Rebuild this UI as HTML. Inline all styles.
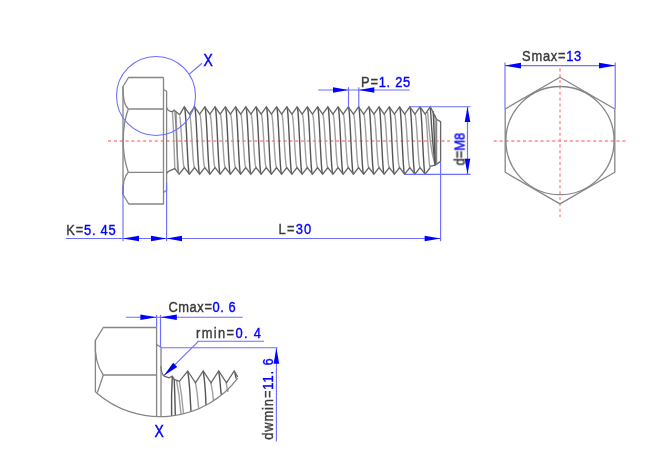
<!DOCTYPE html>
<html><head><meta charset="utf-8"><style>
html,body{margin:0;padding:0;background:#fff;}
svg{display:block;}
text{font-family:"Liberation Sans",sans-serif;}
</style></head><body>
<svg width="668" height="465" viewBox="0 0 668 465">
<rect width="668" height="465" fill="#fff"/>

<g fill="none" stroke="#ff8888" stroke-width="1.3" stroke-dasharray="3.1 2.75"><line x1="108" y1="141" x2="450" y2="141" /><line x1="493.7" y1="141" x2="625.4" y2="141" /><line x1="560" y1="68.3" x2="560" y2="217" /></g>
<g fill="none" stroke="#a0a0a0" stroke-width="1.4"><path d="M427.6,112 C429.5,135 431,153 435.3,165" /><path d="M435,115 C435.8,135 435.8,152 435.6,164.5" /><path d="M179.82,116.23 L180.14,118.69 L180.46,122.01 L180.78,126.04 L181.1,130.65 L181.42,135.65 L181.74,140.85 L182.06,146.05 L182.38,151.05 L182.7,155.66 L183.02,159.69 L183.34,163.01 L183.66,165.47 L183.98,166.99 L184.3,167.5" /><path d="M189.43,114.2 L189.75,114.71 L190.07,116.23 L190.39,118.69 L190.71,122.01 L191.03,126.04 L191.35,130.65 L191.67,135.65 L191.99,140.85 L192.31,146.05 L192.63,151.05 L192.95,155.66 L193.27,159.69 L193.59,163.01 L193.91,165.47 L194.23,166.99 L194.55,167.5" /><path d="M199.68,114.2 L200,114.71 L200.32,116.23 L200.64,118.69 L200.96,122.01 L201.28,126.04 L201.6,130.65 L201.92,135.65 L202.24,140.85 L202.56,146.05 L202.88,151.05 L203.2,155.66 L203.52,159.69 L203.84,163.01 L204.16,165.47 L204.48,166.99 L204.8,167.5" /><path d="M209.93,114.2 L210.25,114.71 L210.57,116.23 L210.89,118.69 L211.21,122.01 L211.53,126.04 L211.85,130.65 L212.17,135.65 L212.49,140.85 L212.81,146.05 L213.13,151.05 L213.45,155.66 L213.77,159.69 L214.09,163.01 L214.41,165.47 L214.73,166.99 L215.05,167.5" /><path d="M220.18,114.2 L220.5,114.71 L220.82,116.23 L221.14,118.69 L221.46,122.01 L221.78,126.04 L222.1,130.65 L222.42,135.65 L222.74,140.85 L223.06,146.05 L223.38,151.05 L223.7,155.66 L224.02,159.69 L224.34,163.01 L224.66,165.47 L224.98,166.99 L225.3,167.5" /><path d="M230.43,114.2 L230.75,114.71 L231.07,116.23 L231.39,118.69 L231.71,122.01 L232.03,126.04 L232.35,130.65 L232.67,135.65 L232.99,140.85 L233.31,146.05 L233.63,151.05 L233.95,155.66 L234.27,159.69 L234.59,163.01 L234.91,165.47 L235.23,166.99 L235.55,167.5" /><path d="M240.68,114.2 L241,114.71 L241.32,116.23 L241.64,118.69 L241.96,122.01 L242.28,126.04 L242.6,130.65 L242.92,135.65 L243.24,140.85 L243.56,146.05 L243.88,151.05 L244.2,155.66 L244.52,159.69 L244.84,163.01 L245.16,165.47 L245.48,166.99 L245.8,167.5" /><path d="M250.93,114.2 L251.25,114.71 L251.57,116.23 L251.89,118.69 L252.21,122.01 L252.53,126.04 L252.85,130.65 L253.17,135.65 L253.49,140.85 L253.81,146.05 L254.13,151.05 L254.45,155.66 L254.77,159.69 L255.09,163.01 L255.41,165.47 L255.73,166.99 L256.05,167.5" /><path d="M261.18,114.2 L261.5,114.71 L261.82,116.23 L262.14,118.69 L262.46,122.01 L262.78,126.04 L263.1,130.65 L263.42,135.65 L263.74,140.85 L264.06,146.05 L264.38,151.05 L264.7,155.66 L265.02,159.69 L265.34,163.01 L265.66,165.47 L265.98,166.99 L266.3,167.5" /><path d="M271.43,114.2 L271.75,114.71 L272.07,116.23 L272.39,118.69 L272.71,122.01 L273.03,126.04 L273.35,130.65 L273.67,135.65 L273.99,140.85 L274.31,146.05 L274.63,151.05 L274.95,155.66 L275.27,159.69 L275.59,163.01 L275.91,165.47 L276.23,166.99 L276.55,167.5" /><path d="M281.68,114.2 L282,114.71 L282.32,116.23 L282.64,118.69 L282.96,122.01 L283.28,126.04 L283.6,130.65 L283.92,135.65 L284.24,140.85 L284.56,146.05 L284.88,151.05 L285.2,155.66 L285.52,159.69 L285.84,163.01 L286.16,165.47 L286.48,166.99 L286.8,167.5" /><path d="M291.93,114.2 L292.25,114.71 L292.57,116.23 L292.89,118.69 L293.21,122.01 L293.53,126.04 L293.85,130.65 L294.17,135.65 L294.49,140.85 L294.81,146.05 L295.13,151.05 L295.45,155.66 L295.77,159.69 L296.09,163.01 L296.41,165.47 L296.73,166.99 L297.05,167.5" /><path d="M302.18,114.2 L302.5,114.71 L302.82,116.23 L303.14,118.69 L303.46,122.01 L303.78,126.04 L304.1,130.65 L304.42,135.65 L304.74,140.85 L305.06,146.05 L305.38,151.05 L305.7,155.66 L306.02,159.69 L306.34,163.01 L306.66,165.47 L306.98,166.99 L307.3,167.5" /><path d="M312.43,114.2 L312.75,114.71 L313.07,116.23 L313.39,118.69 L313.71,122.01 L314.03,126.04 L314.35,130.65 L314.67,135.65 L314.99,140.85 L315.31,146.05 L315.63,151.05 L315.95,155.66 L316.27,159.69 L316.59,163.01 L316.91,165.47 L317.23,166.99 L317.55,167.5" /><path d="M322.68,114.2 L323,114.71 L323.32,116.23 L323.64,118.69 L323.96,122.01 L324.28,126.04 L324.6,130.65 L324.92,135.65 L325.24,140.85 L325.56,146.05 L325.88,151.05 L326.2,155.66 L326.52,159.69 L326.84,163.01 L327.16,165.47 L327.48,166.99 L327.8,167.5" /><path d="M332.93,114.2 L333.25,114.71 L333.57,116.23 L333.89,118.69 L334.21,122.01 L334.53,126.04 L334.85,130.65 L335.17,135.65 L335.49,140.85 L335.81,146.05 L336.13,151.05 L336.45,155.66 L336.77,159.69 L337.09,163.01 L337.41,165.47 L337.73,166.99 L338.05,167.5" /><path d="M343.18,114.2 L343.5,114.71 L343.82,116.23 L344.14,118.69 L344.46,122.01 L344.78,126.04 L345.1,130.65 L345.42,135.65 L345.74,140.85 L346.06,146.05 L346.38,151.05 L346.7,155.66 L347.02,159.69 L347.34,163.01 L347.66,165.47 L347.98,166.99 L348.3,167.5" /><path d="M353.43,114.2 L353.75,114.71 L354.07,116.23 L354.39,118.69 L354.71,122.01 L355.03,126.04 L355.35,130.65 L355.67,135.65 L355.99,140.85 L356.31,146.05 L356.63,151.05 L356.95,155.66 L357.27,159.69 L357.59,163.01 L357.91,165.47 L358.23,166.99 L358.55,167.5" /><path d="M363.68,114.2 L364,114.71 L364.32,116.23 L364.64,118.69 L364.96,122.01 L365.28,126.04 L365.6,130.65 L365.92,135.65 L366.24,140.85 L366.56,146.05 L366.88,151.05 L367.2,155.66 L367.52,159.69 L367.84,163.01 L368.16,165.47 L368.48,166.99 L368.8,167.5" /><path d="M373.93,114.2 L374.25,114.71 L374.57,116.23 L374.89,118.69 L375.21,122.01 L375.53,126.04 L375.85,130.65 L376.17,135.65 L376.49,140.85 L376.81,146.05 L377.13,151.05 L377.45,155.66 L377.77,159.69 L378.09,163.01 L378.41,165.47 L378.73,166.99 L379.05,167.5" /><path d="M384.18,114.2 L384.5,114.71 L384.82,116.23 L385.14,118.69 L385.46,122.01 L385.78,126.04 L386.1,130.65 L386.42,135.65 L386.74,140.85 L387.06,146.05 L387.38,151.05 L387.7,155.66 L388.02,159.69 L388.34,163.01 L388.66,165.47 L388.98,166.99 L389.3,167.5" /><path d="M394.43,114.2 L394.75,114.71 L395.07,116.23 L395.39,118.69 L395.71,122.01 L396.03,126.04 L396.35,130.65 L396.67,135.65 L396.99,140.85 L397.31,146.05 L397.63,151.05 L397.95,155.66 L398.27,159.69 L398.59,163.01 L398.91,165.47 L399.23,166.99 L399.55,167.5" /><path d="M404.68,114.2 L405,114.71 L405.32,116.23 L405.64,118.69 L405.96,122.01 L406.28,126.04 L406.6,130.65 L406.92,135.65 L407.24,140.85 L407.56,146.05 L407.88,151.05 L408.2,155.66 L408.52,159.69 L408.84,163.01 L409.16,165.47 L409.48,166.99 L409.8,167.5" /><path d="M414.93,114.2 L415.25,114.71 L415.57,116.23 L415.89,118.69 L416.21,122.01 L416.53,126.04 L416.85,130.65 L417.17,135.65 L417.49,140.85 L417.81,146.05 L418.13,151.05 L418.45,155.66 L418.77,159.69 L419.09,163.01 L419.41,165.47 L419.73,166.99 L420.05,167.5" /><path d="M425.18,114.2 L425.5,114.71 L425.82,116.23 L426.14,118.69 L426.46,122.01 L426.78,126.04 L427.1,130.65 L427.42,135.65 L427.74,140.85 L428.06,146.05 L428.38,151.05 L428.7,155.66 L429.02,159.69 L429.34,163.01 L429.66,165.47 L429.98,166.99 L430.3,167.5" /><path d="M172.4,111.6 L173.2,125 L174.2,150 L174.8,168.6" /><path d="M176.2,112.3 L176.6,130 L177.2,150 L177.6,170.5" /><path d="M195.5,382.8 L197,392 L198.7,408.76" /><path d="M211,382.8 L212.5,392 L213.5,400.81" /><path d="M226.2,382.8 L227.7,392 L228,389.22" /><path d="M176.5,380.3 L179,395 L181,414.44" /><path d="M179.4,381.3 L181.5,395 L183.5,413.86" /></g>
<g fill="none" stroke="#555" stroke-width="1.4"><path d="M184.3,106.8 L184.62,107.45 L184.94,109.37 L185.26,112.48 L185.58,116.67 L185.9,121.78 L186.22,127.6 L186.54,133.93 L186.86,140.5 L187.18,147.07 L187.5,153.4 L187.82,159.22 L188.14,164.33 L188.46,168.52 L188.78,171.63 L189.1,173.55 L189.43,174.2" /><path d="M194.55,106.8 L194.87,107.45 L195.19,109.37 L195.51,112.48 L195.83,116.67 L196.15,121.78 L196.47,127.6 L196.79,133.93 L197.11,140.5 L197.43,147.07 L197.75,153.4 L198.07,159.22 L198.39,164.33 L198.71,168.52 L199.03,171.63 L199.35,173.55 L199.68,174.2" /><path d="M204.8,106.8 L205.12,107.45 L205.44,109.37 L205.76,112.48 L206.08,116.67 L206.4,121.78 L206.72,127.6 L207.04,133.93 L207.36,140.5 L207.68,147.07 L208,153.4 L208.32,159.22 L208.64,164.33 L208.96,168.52 L209.28,171.63 L209.6,173.55 L209.93,174.2" /><path d="M215.05,106.8 L215.37,107.45 L215.69,109.37 L216.01,112.48 L216.33,116.67 L216.65,121.78 L216.97,127.6 L217.29,133.93 L217.61,140.5 L217.93,147.07 L218.25,153.4 L218.57,159.22 L218.89,164.33 L219.21,168.52 L219.53,171.63 L219.85,173.55 L220.18,174.2" /><path d="M225.3,106.8 L225.62,107.45 L225.94,109.37 L226.26,112.48 L226.58,116.67 L226.9,121.78 L227.22,127.6 L227.54,133.93 L227.86,140.5 L228.18,147.07 L228.5,153.4 L228.82,159.22 L229.14,164.33 L229.46,168.52 L229.78,171.63 L230.1,173.55 L230.43,174.2" /><path d="M235.55,106.8 L235.87,107.45 L236.19,109.37 L236.51,112.48 L236.83,116.67 L237.15,121.78 L237.47,127.6 L237.79,133.93 L238.11,140.5 L238.43,147.07 L238.75,153.4 L239.07,159.22 L239.39,164.33 L239.71,168.52 L240.03,171.63 L240.35,173.55 L240.68,174.2" /><path d="M245.8,106.8 L246.12,107.45 L246.44,109.37 L246.76,112.48 L247.08,116.67 L247.4,121.78 L247.72,127.6 L248.04,133.93 L248.36,140.5 L248.68,147.07 L249,153.4 L249.32,159.22 L249.64,164.33 L249.96,168.52 L250.28,171.63 L250.6,173.55 L250.93,174.2" /><path d="M256.05,106.8 L256.37,107.45 L256.69,109.37 L257.01,112.48 L257.33,116.67 L257.65,121.78 L257.97,127.6 L258.29,133.93 L258.61,140.5 L258.93,147.07 L259.25,153.4 L259.57,159.22 L259.89,164.33 L260.21,168.52 L260.53,171.63 L260.85,173.55 L261.18,174.2" /><path d="M266.3,106.8 L266.62,107.45 L266.94,109.37 L267.26,112.48 L267.58,116.67 L267.9,121.78 L268.22,127.6 L268.54,133.93 L268.86,140.5 L269.18,147.07 L269.5,153.4 L269.82,159.22 L270.14,164.33 L270.46,168.52 L270.78,171.63 L271.1,173.55 L271.43,174.2" /><path d="M276.55,106.8 L276.87,107.45 L277.19,109.37 L277.51,112.48 L277.83,116.67 L278.15,121.78 L278.47,127.6 L278.79,133.93 L279.11,140.5 L279.43,147.07 L279.75,153.4 L280.07,159.22 L280.39,164.33 L280.71,168.52 L281.03,171.63 L281.35,173.55 L281.68,174.2" /><path d="M286.8,106.8 L287.12,107.45 L287.44,109.37 L287.76,112.48 L288.08,116.67 L288.4,121.78 L288.72,127.6 L289.04,133.93 L289.36,140.5 L289.68,147.07 L290,153.4 L290.32,159.22 L290.64,164.33 L290.96,168.52 L291.28,171.63 L291.6,173.55 L291.93,174.2" /><path d="M297.05,106.8 L297.37,107.45 L297.69,109.37 L298.01,112.48 L298.33,116.67 L298.65,121.78 L298.97,127.6 L299.29,133.93 L299.61,140.5 L299.93,147.07 L300.25,153.4 L300.57,159.22 L300.89,164.33 L301.21,168.52 L301.53,171.63 L301.85,173.55 L302.18,174.2" /><path d="M307.3,106.8 L307.62,107.45 L307.94,109.37 L308.26,112.48 L308.58,116.67 L308.9,121.78 L309.22,127.6 L309.54,133.93 L309.86,140.5 L310.18,147.07 L310.5,153.4 L310.82,159.22 L311.14,164.33 L311.46,168.52 L311.78,171.63 L312.1,173.55 L312.43,174.2" /><path d="M317.55,106.8 L317.87,107.45 L318.19,109.37 L318.51,112.48 L318.83,116.67 L319.15,121.78 L319.47,127.6 L319.79,133.93 L320.11,140.5 L320.43,147.07 L320.75,153.4 L321.07,159.22 L321.39,164.33 L321.71,168.52 L322.03,171.63 L322.35,173.55 L322.68,174.2" /><path d="M327.8,106.8 L328.12,107.45 L328.44,109.37 L328.76,112.48 L329.08,116.67 L329.4,121.78 L329.72,127.6 L330.04,133.93 L330.36,140.5 L330.68,147.07 L331,153.4 L331.32,159.22 L331.64,164.33 L331.96,168.52 L332.28,171.63 L332.6,173.55 L332.93,174.2" /><path d="M338.05,106.8 L338.37,107.45 L338.69,109.37 L339.01,112.48 L339.33,116.67 L339.65,121.78 L339.97,127.6 L340.29,133.93 L340.61,140.5 L340.93,147.07 L341.25,153.4 L341.57,159.22 L341.89,164.33 L342.21,168.52 L342.53,171.63 L342.85,173.55 L343.18,174.2" /><path d="M348.3,106.8 L348.62,107.45 L348.94,109.37 L349.26,112.48 L349.58,116.67 L349.9,121.78 L350.22,127.6 L350.54,133.93 L350.86,140.5 L351.18,147.07 L351.5,153.4 L351.82,159.22 L352.14,164.33 L352.46,168.52 L352.78,171.63 L353.1,173.55 L353.43,174.2" /><path d="M358.55,106.8 L358.87,107.45 L359.19,109.37 L359.51,112.48 L359.83,116.67 L360.15,121.78 L360.47,127.6 L360.79,133.93 L361.11,140.5 L361.43,147.07 L361.75,153.4 L362.07,159.22 L362.39,164.33 L362.71,168.52 L363.03,171.63 L363.35,173.55 L363.68,174.2" /><path d="M368.8,106.8 L369.12,107.45 L369.44,109.37 L369.76,112.48 L370.08,116.67 L370.4,121.78 L370.72,127.6 L371.04,133.93 L371.36,140.5 L371.68,147.07 L372,153.4 L372.32,159.22 L372.64,164.33 L372.96,168.52 L373.28,171.63 L373.6,173.55 L373.93,174.2" /><path d="M379.05,106.8 L379.37,107.45 L379.69,109.37 L380.01,112.48 L380.33,116.67 L380.65,121.78 L380.97,127.6 L381.29,133.93 L381.61,140.5 L381.93,147.07 L382.25,153.4 L382.57,159.22 L382.89,164.33 L383.21,168.52 L383.53,171.63 L383.85,173.55 L384.18,174.2" /><path d="M389.3,106.8 L389.62,107.45 L389.94,109.37 L390.26,112.48 L390.58,116.67 L390.9,121.78 L391.22,127.6 L391.54,133.93 L391.86,140.5 L392.18,147.07 L392.5,153.4 L392.82,159.22 L393.14,164.33 L393.46,168.52 L393.78,171.63 L394.1,173.55 L394.43,174.2" /><path d="M399.55,106.8 L399.87,107.45 L400.19,109.37 L400.51,112.48 L400.83,116.67 L401.15,121.78 L401.47,127.6 L401.79,133.93 L402.11,140.5 L402.43,147.07 L402.75,153.4 L403.07,159.22 L403.39,164.33 L403.71,168.52 L404.03,171.63 L404.35,173.55 L404.68,174.2" /><path d="M409.8,106.8 L410.12,107.45 L410.44,109.37 L410.76,112.48 L411.08,116.67 L411.4,121.78 L411.72,127.6 L412.04,133.93 L412.36,140.5 L412.68,147.07 L413,153.4 L413.32,159.22 L413.64,164.33 L413.96,168.52 L414.28,171.63 L414.6,173.55 L414.93,174.2" /><path d="M420.05,106.8 L420.37,107.45 L420.69,109.37 L421.01,112.48 L421.33,116.67 L421.65,121.78 L421.97,127.6 L422.29,133.93 L422.61,140.5 L422.93,147.07 L423.25,153.4 L423.57,159.22 L423.89,164.33 L424.21,168.52 L424.53,171.63 L424.85,173.55 L425.18,174.2" /><path d="M430.3,106.8 C431.8,128 432.8,150 435.3,165" /><path d="M433.2,111.2 C434.3,132 434.6,152 435.3,165" /><path d="M187.7,371 L188.9,380 L189.9,392 L191,411.69" /><path d="M203.2,371 L204.4,380 L205.4,392 L206,405.25" /><path d="M218.7,371 L219.9,380 L220.9,392 L221.5,394.98" /><path d="M234.6,373.5 L235.6,375.5 L236.2,378.6" /><path d="M172.3,376.1 L171.6,395 L171.6,416.02" /><path d="M174.2,379.4 L174.8,395 L175.3,415.51" /></g>
<g fill="none" stroke="#666" stroke-width="1.3" stroke-linejoin="miter"><path d="M166.6,107.6 C167.3,110.2 169.2,111.3 172.3,111.7 L174.1,110.1 L179.7,114.7 L184.3,106.8 L189.43,114.2 L194.55,106.8 L199.68,114.2 L204.8,106.8 L209.93,114.2 L215.05,106.8 L220.18,114.2 L225.3,106.8 L230.43,114.2 L235.55,106.8 L240.68,114.2 L245.8,106.8 L250.93,114.2 L256.05,106.8 L261.18,114.2 L266.3,106.8 L271.43,114.2 L276.55,106.8 L281.68,114.2 L286.8,106.8 L291.93,114.2 L297.05,106.8 L302.18,114.2 L307.3,106.8 L312.43,114.2 L317.55,106.8 L322.68,114.2 L327.8,106.8 L332.93,114.2 L338.05,106.8 L343.18,114.2 L348.3,106.8 L353.43,114.2 L358.55,106.8 L363.68,114.2 L368.8,106.8 L373.93,114.2 L379.05,106.8 L384.18,114.2 L389.3,106.8 L394.43,114.2 L399.55,106.8 L404.68,114.2 L409.8,106.8 L414.93,114.2 L420.05,106.8 L425.18,114.2 L430.3,106.8 L436.6,119.2 L440.6,121.6 L440.6,161.3 L435.3,165.1 L429.8,166.4" /><path d="M166.6,173.6 C167.2,172 168.2,171.1 170,170.6 L174.8,168.6 L179.18,174.2 L184.3,167.5 L189.43,174.2 L194.55,167.5 L199.68,174.2 L204.8,167.5 L209.93,174.2 L215.05,167.5 L220.18,174.2 L225.3,167.5 L230.43,174.2 L235.55,167.5 L240.68,174.2 L245.8,167.5 L250.93,174.2 L256.05,167.5 L261.18,174.2 L266.3,167.5 L271.43,174.2 L276.55,167.5 L281.68,174.2 L286.8,167.5 L291.93,174.2 L297.05,167.5 L302.18,174.2 L307.3,167.5 L312.43,174.2 L317.55,167.5 L322.68,174.2 L327.8,167.5 L332.93,174.2 L338.05,167.5 L343.18,174.2 L348.3,167.5 L353.43,174.2 L358.55,167.5 L363.68,174.2 L368.8,167.5 L373.93,174.2 L379.05,167.5 L384.18,174.2 L389.3,167.5 L394.43,174.2 L399.55,167.5 L404.68,174.2 L409.8,167.5 L414.93,174.2 L420.05,167.5 L425.18,174.2 L430.3,167.5" /><path d="M161,366 C161.1,372 162.2,375.4 164.8,376.4 L169,377.8 L172.3,376.2 L174.2,379.4 L179.4,381.3 L187.7,371 L195.5,382.8 L203.2,371 L211,382.8 L218.7,371 L226.5,382.8 L234.2,371 L237.8,377" /></g>
<g fill="none" stroke="#858585" stroke-width="1.3" stroke-linejoin="round"><path d="M163.5,77.5 L128.5,77.5 L123,86.5 L123,194.5 L128.8,204 L163.5,204 L163.5,77.5" /><line x1="128.3" y1="109" x2="163.5" y2="109" /><line x1="128.3" y1="172.3" x2="163.5" y2="172.3" /><path d="M123,86.5 C122.7,99 124.2,105.5 128.4,109" /><path d="M128.3,109 C125,118 123.2,130 123.2,141 C123.2,152 125,163 128.3,172.3" /><path d="M128.4,172.3 C124.2,176 122.7,182 123,194.5" /><path d="M163.5,89.5 L166.6,91.2 L166.6,190.3 L163.5,192.4" /><path d="M174.1,110.1 L175.01,112.48 L175.33,116.67 L175.65,121.78 L175.97,127.6 L176.29,133.93 L176.61,140.5 L176.93,147.07 L177.25,153.4 L177.57,159.22 L177.89,164.33 L178.21,168.52 L178.53,171.63 L178.85,173.55 L179.18,174.2" /><line x1="436.6" y1="119.2" x2="436.6" y2="164.5" /><path d="M560,77.3 L614.82,108.95 L614.82,172.25 L560,203.9 L505.18,172.25 L505.18,108.95Z"/><circle cx="560" cy="140.6" r="54.1"/><path d="M156.6,327.5 L103.3,327.5 L95.4,340.4 L95.4,391.3 L96.6,393.07" /><line x1="103.3" y1="375" x2="156.6" y2="375" /><path d="M95.4,340.4 C94.6,354 96.8,366 103.3,375" /><line x1="103.3" y1="375" x2="97.4" y2="392.6" /><line x1="156.6" y1="327.5" x2="156.6" y2="416" /><path d="M156.6,344.6 L161,347.2 L161,416" /><path d="M96.6,393.07 A97.42,97.42 0 0 0 237.8,378.15" /></g>
<g fill="none" stroke="#6e6eff" stroke-width="1.15"><line x1="66" y1="238.5" x2="440.6" y2="238.5" /><line x1="123" y1="185.5" x2="123" y2="241.3" /><line x1="166.6" y1="182.8" x2="166.6" y2="241.3" /><line x1="440.6" y1="161.3" x2="440.6" y2="241.3" /><line x1="318.2" y1="90" x2="409.7" y2="90" /><line x1="348.5" y1="87.2" x2="348.5" y2="107" /><line x1="358.8" y1="87.2" x2="358.8" y2="107" /><line x1="410" y1="106.7" x2="470.5" y2="106.7" /><line x1="405" y1="174.3" x2="470.5" y2="174.3" /><line x1="467.5" y1="106.7" x2="467.5" y2="174.3" /><circle cx="156" cy="95.9" r="39.5" stroke-width="1.05"/><line x1="189" y1="74.4" x2="202" y2="63.2" /><line x1="505" y1="65.6" x2="615.2" y2="65.6" /><line x1="505" y1="62.6" x2="505" y2="108.7" /><line x1="615.2" y1="62.6" x2="615.2" y2="108.7" /><line x1="125.8" y1="317.2" x2="242.6" y2="317.2" /><line x1="156.6" y1="314.9" x2="156.6" y2="327.5" /><line x1="160.5" y1="314.9" x2="160.5" y2="347.2" /><line x1="197.5" y1="341.2" x2="264.1" y2="341.2" /><line x1="198.6" y1="341.2" x2="164" y2="375.6" /><line x1="161" y1="347.7" x2="277.6" y2="347.7" /><line x1="276.4" y1="347.9" x2="276.4" y2="441.6" /></g>
<g fill="#0000ff" stroke="none"><path d="M123,238.5 L139,235.7 L139,241.3Z"/><path d="M166.6,238.5 L151,241.3 L151,235.7Z"/><path d="M166.6,238.5 L182,235.7 L182,241.3Z"/><path d="M440.6,238.5 L424.6,241.3 L424.6,235.7Z"/><path d="M348.5,90 L333,92.8 L333,87.2Z"/><path d="M358.8,90 L374.3,87.2 L374.3,92.8Z"/><path d="M467.5,106.7 L470.3,122 L464.7,122Z"/><path d="M467.5,174.3 L464.7,158.8 L470.3,158.8Z"/><path d="M505,65.6 L521,62.8 L521,68.4Z"/><path d="M615.2,65.6 L599,68.4 L599,62.8Z"/><path d="M156.6,317.2 L140.4,320 L140.4,314.4Z"/><path d="M160.5,317.2 L176.8,314.4 L176.8,320Z"/><path d="M164,375.6 L173.12,362.64 L177.28,366.96Z"/><path d="M276.4,347.9 L279.2,363.7 L273.6,363.7Z"/></g>
<g font-family="Liberation Sans, sans-serif" stroke-width="0.4" style="will-change:transform"><text transform="translate(66.3 234.8) scale(0.86 1)" font-size="15.0" textLength="57.44" lengthAdjust="spacing"><tspan fill="#3a3a3a" stroke="#3a3a3a">K=</tspan><tspan fill="#0000ff" stroke="#0000ff">5. 45</tspan></text><text transform="translate(278.6 233.9) scale(0.86 1)" font-size="15.0" textLength="37.91" lengthAdjust="spacing"><tspan fill="#3a3a3a" stroke="#3a3a3a">L=</tspan><tspan fill="#0000ff" stroke="#0000ff">30</tspan></text><text transform="translate(361.1 87.2) scale(0.86 1)" font-size="15.0" textLength="57.21" lengthAdjust="spacing"><tspan fill="#3a3a3a" stroke="#3a3a3a">P=</tspan><tspan fill="#0000ff" stroke="#0000ff">1. 25</tspan></text><text transform="translate(522.1 61.1) scale(0.86 1)" font-size="15.0" textLength="68.84" lengthAdjust="spacing"><tspan fill="#3a3a3a" stroke="#3a3a3a">Smax=</tspan><tspan fill="#0000ff" stroke="#0000ff">13</tspan></text><text transform="translate(464.6 165.4) rotate(-90) scale(0.86 1)" font-size="15.0" textLength="37.91" lengthAdjust="spacing"><tspan fill="#3a3a3a" stroke="#3a3a3a">d=</tspan><tspan fill="#0000ff" stroke="#0000ff">M8</tspan></text><text transform="translate(168.4 312.4) scale(0.86 1)" font-size="15.0" textLength="78.37" lengthAdjust="spacing"><tspan fill="#3a3a3a" stroke="#3a3a3a">Cmax=</tspan><tspan fill="#0000ff" stroke="#0000ff">0. 6</tspan></text><text transform="translate(196 337.5) scale(0.86 1)" font-size="15.0" textLength="75.58" lengthAdjust="spacing"><tspan fill="#3a3a3a" stroke="#3a3a3a">rmin=</tspan><tspan fill="#0000ff" stroke="#0000ff">0. 4</tspan></text><text transform="translate(273.2 439.8) rotate(-90) scale(0.86 1)" font-size="15.0" textLength="94.65" lengthAdjust="spacing"><tspan fill="#3a3a3a" stroke="#3a3a3a">dwmin=</tspan><tspan fill="#0000ff" stroke="#0000ff">11. 6</tspan></text><text transform="translate(203.6 65.6) scale(0.84 1)" font-size="16.6" fill="#0000ff" stroke="#0000ff" stroke-width="0.45">X</text><text transform="translate(154.5 437.1) scale(0.84 1)" font-size="16.6" fill="#0000ff" stroke="#0000ff" stroke-width="0.45">X</text></g>
</svg></body></html>
